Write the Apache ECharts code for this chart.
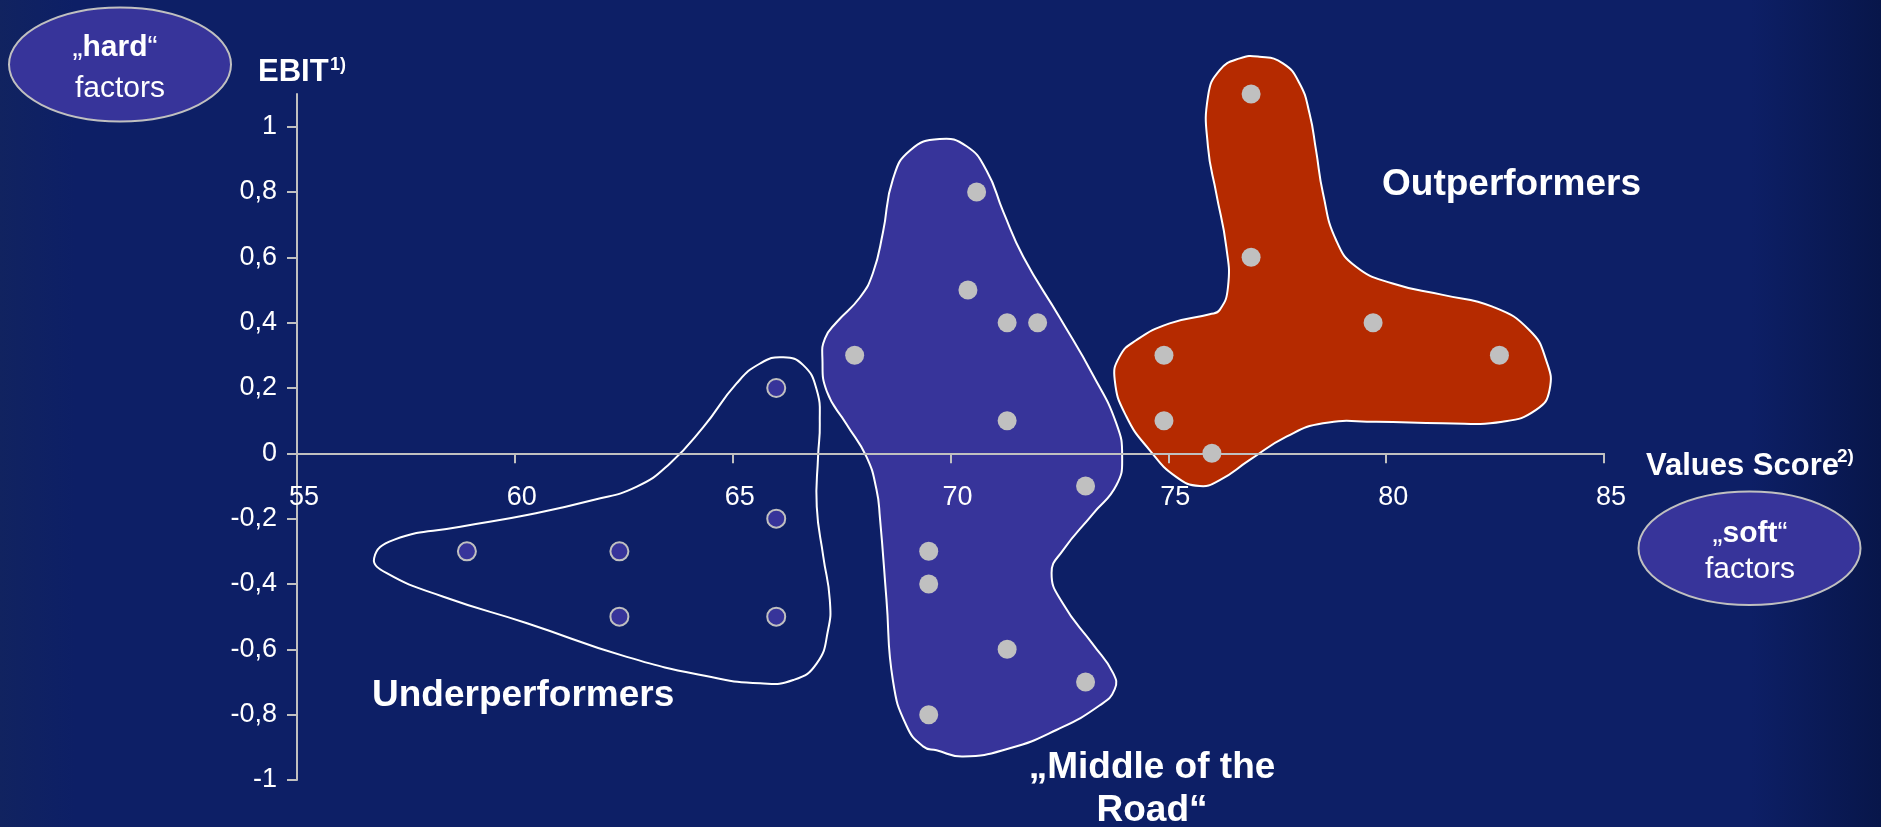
<!DOCTYPE html>
<html>
<head>
<meta charset="utf-8">
<script src="https://cdn.jsdelivr.net/npm/echarts@6/dist/echarts.min.js"></script>
<style>
html,body{margin:0;padding:0;background:#0d1f66;}
#chart{width:1881px;height:827px;}
</style>
</head>
<body>
<div id="chart"></div>
<script>
// ---- data ----
const xTickLabels = [55, 60, 65, 70, 75, 80, 85];
const yTickValues = [-1, -0.8, -0.6, -0.4, -0.2, 0, 0.2, 0.4, 0.6, 0.8, 1];

const underX = [58.9, 62.4, 62.4, 66, 66, 66];
const underY = [-0.3, -0.3, -0.5, 0.2, -0.2, -0.5];

const middleX = [67.8, 70.6, 70.4, 71.3, 72.0, 71.3, 73.1, 69.5, 69.5, 71.3, 73.1, 69.5];
const middleY = [0.3, 0.8, 0.5, 0.4, 0.4, 0.1, -0.1, -0.3, -0.4, -0.6, -0.7, -0.8];

const outX = [76.9, 76.9, 74.9, 74.9, 76.0, 79.7, 82.6];
const outY = [1.1, 0.6, 0.3, 0.1, 0.0, 0.4, 0.3];

// cluster outlines (value space)
const underOutline = [
  [56.77,-0.321],[57.22,-0.265],[58.75,-0.225],[60.28,-0.189],[61.80,-0.143],[62.80,-0.102],
  [63.56,-0.031],[64.33,0.081],[65.09,0.214],[65.63,0.275],[66.16,0.294],[66.62,0.270],
  [66.93,0.194],[67.00,0.092],[66.96,-0.010],[66.93,-0.163],[67.08,-0.316],[67.23,-0.449],
  [67.19,-0.541],[66.93,-0.643],[66.39,-0.694],[65.63,-0.704],[64.48,-0.684],[62.57,-0.623],
  [60.28,-0.520],[58.36,-0.439],[57.06,-0.367]
];
const middleOutline = [
  [69.75,0.962],[70.37,0.940],[70.83,0.865],[71.21,0.740],[71.67,0.602],[72.51,0.415],
  [73.27,0.240],[73.81,0.090],[73.94,-0.010],[73.81,-0.097],[73.27,-0.185],[72.58,-0.297],
  [72.32,-0.366],[72.58,-0.460],[73.27,-0.585],[73.73,-0.672],[73.77,-0.722],[73.42,-0.772],
  [72.43,-0.847],[71.36,-0.903],[70.29,-0.928],[69.68,-0.909],[69.37,-0.897],[68.99,-0.834],
  [68.68,-0.697],[68.53,-0.447],[68.38,-0.197],[68.30,-0.110],[68.07,-0.010],[67.61,0.090],
  [67.16,0.190],[67.06,0.290],[67.12,0.352],[67.39,0.402],[67.92,0.477],[68.22,0.552],
  [68.45,0.677],[68.68,0.840],[69.07,0.927]
];
const outOutline = [
  [77.09,1.214],[77.63,1.194],[78.01,1.133],[78.24,1.041],[78.39,0.928],[78.55,0.796],
  [78.85,0.653],[79.31,0.571],[80.15,0.520],[81.30,0.485],[82.44,0.449],[83.29,0.377],
  [83.67,0.286],[83.75,0.194],[83.44,0.133],[82.67,0.097],[81.30,0.092],[79.77,0.097],
  [78.55,0.092],[77.71,0.051],[76.86,-0.021],[76.18,-0.082],[75.72,-0.100],[75.18,-0.072],
  [74.57,0.010],[74.04,0.112],[73.77,0.224],[73.88,0.296],[74.27,0.347],[75.03,0.398],
  [75.95,0.426],[76.18,0.439],[76.37,0.510],[76.33,0.632],[76.10,0.796],[75.91,0.938],
  [75.91,1.092],[76.18,1.173],[76.64,1.209]
];

// ---- styles ----
const FONT = "'Liberation Sans', Arial, sans-serif";
const PURPLE = '#37349a';
const RED = '#b52a00';
const GREY = '#c0c0c0';

function pairs(xs, ys) { return xs.map((x, i) => [x, ys[i]]); }

function blob(outline, fill) {
  return {
    type: 'custom',
    coordinateSystem: 'cartesian2d',
    silent: true,
    clip: false,
    z: -1,
    data: outline,
    encode: { x: 0, y: 1 },
    renderItem: function (params, api) {
      if (params.dataIndex !== 0) return null;
      const pts = outline.map(p => api.coord(p));
      return {
        type: 'polygon',
        shape: { points: pts, smooth: 0.5 },
        style: { fill: fill, stroke: '#ffffff', lineWidth: 2 }
      };
    }
  };
}

const fmt = v => String(Math.round(v * 10) / 10).replace('.', ',');

const GRID_TOP = 94, GRID_BOTTOM = 47, H = 827;
const Y_MIN = -1, Y_MAX = 1.1;
// x axis sits on y = 0: offset it up from the grid bottom by the plotted height of |Y_MIN|
const plotH = H - GRID_TOP - GRID_BOTTOM;
const xAxisOffset = -plotH * (0 - Y_MIN) / (Y_MAX - Y_MIN);

const chart = echarts.init(document.getElementById('chart'), null, { renderer: 'canvas' });
chart.setOption({
  backgroundColor: {
    type: 'linear', x: 0, y: 0, x2: 1, y2: 0,
    colorStops: [
      { offset: 0, color: '#112360' },
      { offset: 0.04, color: '#0d1f66' },
      { offset: 0.93, color: '#0d1f66' },
      { offset: 1, color: '#08164a' }
    ]
  },
  animation: false,
  grid: { left: 297, right: 277, top: GRID_TOP, bottom: GRID_BOTTOM, outerBoundsMode: 'none', containLabel: false },
  xAxis: {
    type: 'value', min: 55, max: 85, interval: 5,
    position: 'bottom',
    offset: xAxisOffset,
    splitLine: { show: false },
    axisLine: { show: true, onZero: false, lineStyle: { color: GREY, width: 2 } },
    axisTick: { show: true, inside: false, length: 10, lineStyle: { color: GREY, width: 2 } },
    axisLabel: {
      color: '#ffffff', fontSize: 27, fontFamily: FONT, margin: 31,
      padding: [0, 0, 0, 14],
      formatter: v => String(v)
    }
  },
  yAxis: {
    type: 'value', min: Y_MIN, max: Y_MAX,
    splitLine: { show: false },
    axisLine: { show: true, onZero: false, lineStyle: { color: GREY, width: 2 } },
    axisTick: { show: true, length: 10, customValues: yTickValues, lineStyle: { color: GREY, width: 2 } },
    axisLabel: {
      color: '#ffffff', fontSize: 27, fontFamily: FONT, margin: 20,
      customValues: yTickValues,
      formatter: v => (v > 1.05 ? '' : fmt(v))
    }
  },
  series: [
    blob(underOutline, 'rgba(0,0,0,0)'),
    blob(middleOutline, PURPLE),
    blob(outOutline, RED),
    {
      type: 'scatter', name: 'Underperformers', z: 5,
      data: pairs(underX, underY), symbolSize: 18,
      itemStyle: { color: PURPLE, borderColor: GREY, borderWidth: 2, opacity: 1 }
    },
    {
      type: 'scatter', name: 'Middle of the Road', z: 5,
      data: pairs(middleX, middleY), symbolSize: 19,
      itemStyle: { color: GREY, opacity: 1 }
    },
    {
      type: 'scatter', name: 'Outperformers', z: 5,
      data: pairs(outX, outY), symbolSize: 19,
      itemStyle: { color: GREY, opacity: 1 }
    }
  ],
  graphic: [
    { type: 'ellipse', shape: { cx: 120, cy: 64.5, rx: 111, ry: 57 }, style: { fill: PURPLE, stroke: GREY, lineWidth: 2 }, z: 10 },
    { type: 'text', x: 115, y: 48, z: 11, style: {
      text: '{q|„}{b|hard}{q|“}', align: 'center', verticalAlign: 'middle', fill: '#fff',
      rich: { q: { fontSize: 30, fontFamily: FONT, fill: '#fff' }, b: { fontSize: 30, fontWeight: 'bold', fontFamily: FONT, fill: '#fff' } } } },
    { type: 'text', x: 120, y: 88.5, z: 11, style: { text: 'factors', align: 'center', verticalAlign: 'middle', fill: '#fff', fontSize: 30, fontFamily: FONT } },

    { type: 'ellipse', shape: { cx: 1749.5, cy: 548.3, rx: 111, ry: 56.7 }, style: { fill: PURPLE, stroke: GREY, lineWidth: 2 }, z: 10 },
    { type: 'text', x: 1750, y: 534, z: 11, style: {
      text: '{q|„}{b|soft}{q|“}', align: 'center', verticalAlign: 'middle', fill: '#fff',
      rich: { q: { fontSize: 30, fontFamily: FONT, fill: '#fff' }, b: { fontSize: 30, fontWeight: 'bold', fontFamily: FONT, fill: '#fff' } } } },
    { type: 'text', x: 1750, y: 569.5, z: 11, style: { text: 'factors', align: 'center', verticalAlign: 'middle', fill: '#fff', fontSize: 30, fontFamily: FONT } },

    { type: 'text', x: 258, y: 72, z: 11, style: { text: 'EBIT', align: 'left', verticalAlign: 'middle', fill: '#fff', fontSize: 31, fontWeight: 'bold', fontFamily: FONT } },
    { type: 'text', x: 330, y: 65, z: 11, style: { text: '1)', align: 'left', verticalAlign: 'middle', fill: '#fff', fontSize: 18, fontWeight: 'bold', fontFamily: FONT } },

    { type: 'text', x: 1646, y: 466, z: 11, style: { text: 'Values Score', align: 'left', verticalAlign: 'middle', fill: '#fff', fontSize: 31, fontWeight: 'bold', fontFamily: FONT } },
    { type: 'text', x: 1837, y: 457, z: 11, style: { text: '2)', align: 'left', verticalAlign: 'middle', fill: '#fff', fontSize: 19, fontWeight: 'bold', fontFamily: FONT } },

    { type: 'text', x: 372, y: 696, z: 11, style: { text: 'Underperformers', align: 'left', verticalAlign: 'middle', fill: '#fff', fontSize: 37, fontWeight: 'bold', fontFamily: FONT } },
    { type: 'text', x: 1382, y: 185, z: 11, style: { text: 'Outperformers', align: 'left', verticalAlign: 'middle', fill: '#fff', fontSize: 37, fontWeight: 'bold', fontFamily: FONT } },
    { type: 'text', x: 1152, y: 768, z: 11, style: { text: '„Middle of the', align: 'center', verticalAlign: 'middle', fill: '#fff', fontSize: 37, fontWeight: 'bold', fontFamily: FONT } },
    { type: 'text', x: 1152, y: 811, z: 11, style: { text: 'Road“', align: 'center', verticalAlign: 'middle', fill: '#fff', fontSize: 37, fontWeight: 'bold', fontFamily: FONT } }
  ]
});
</script>
</body>
</html>
